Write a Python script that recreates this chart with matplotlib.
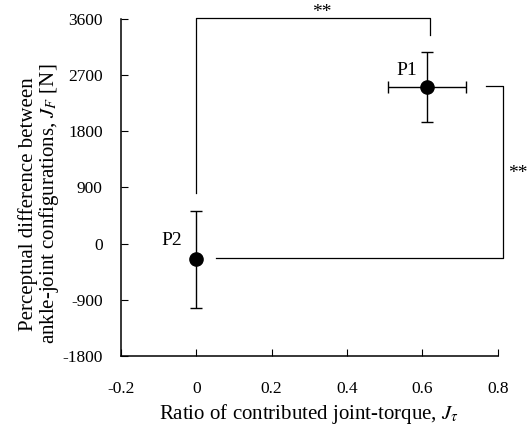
import matplotlib.pyplot as plt

plt.rcParams['font.family'] = ['Liberation Serif', 'DejaVu Serif']
plt.rcParams['mathtext.fontset'] = 'stix'
plt.rcParams['axes.unicode_minus'] = False

# points (ratio of contributed joint-torque, perceptual difference)
names = ['P1', 'P2']
x_vals = [0.612, 0.0]
y_vals = [2510, -250]
x_err = [0.103, 0.0]
y_err = [565, 775]

xticks = [-0.2, 0, 0.2, 0.4, 0.6, 0.8]
yticks = [-1800, -900, 0, 900, 1800, 2700, 3600]

fig = plt.figure(figsize=(5.3, 4.34), dpi=100)
ax = fig.add_axes([0.228, 0.180, 0.711, 0.776])

for i in range(len(names)):
    ax.errorbar(x_vals[i], y_vals[i], xerr=x_err[i] if x_err[i] else None, yerr=y_err[i],
                fmt='o', color='black', ms=9.5, elinewidth=1, capsize=4, capthick=1, clip_on=False)

ax.text(0.559, 2783, 'P1', fontsize=14, ha='center', va='center')
ax.text(-0.066, 58, 'P2', fontsize=14, ha='center', va='center')

# significance brackets
ax.plot([0, 0, 0.62, 0.62], [812, 3611, 3611, 3344], color='black', lw=0.9, clip_on=False)
ax.text(0.333, 3700, '**', fontsize=14, ha='center', va='center')
ax.plot([0.77, 0.815, 0.815, 0.053], [2530, 2530, -230, -230], color='black', lw=0.9, clip_on=False)
ax.text(0.853, 1130, '**', fontsize=14, ha='center', va='center')

ax.set_xlim(-0.2, 0.8)
ax.set_ylim(-1800, 3600)
ax.set_xticks(xticks)
ax.set_xticklabels(['-0.2', '0', '0.2', '0.4', '0.6', '0.8'])
ax.set_yticks(yticks)
ax.tick_params(direction='in', labelsize=12.5, length=5, width=0.8)
ax.tick_params(axis='x', pad=18)
ax.tick_params(axis='y', pad=13)
ax.spines['top'].set_visible(False)
ax.spines['right'].set_visible(False)
ax.spines['left'].set_linewidth(1.1)
ax.spines['bottom'].set_linewidth(1.1)

ax.set_xlabel(r'Ratio of contributed joint-torque, $J_\tau$', fontsize=15, labelpad=4)
ax.set_ylabel('Perceptual difference between\nankle-joint configurations, $J_F$ [N]', fontsize=15,
              linespacing=0.95)
ax.yaxis.set_label_coords(-0.158, 0.451)

fig.savefig('out.png', dpi=100)
